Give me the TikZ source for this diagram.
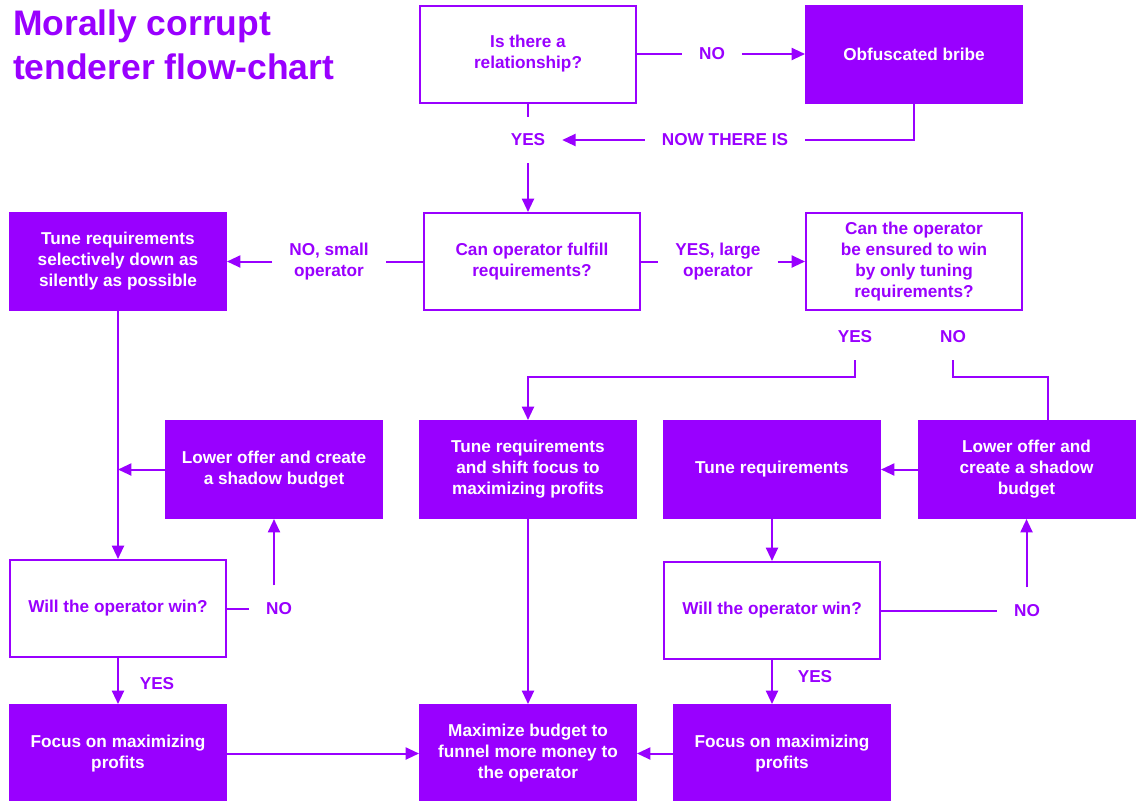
\documentclass[tikz,border=0pt]{standalone}
\usepackage{fontspec}
\setmainfont{Liberation Sans}
\usepackage{tikz}
\usetikzlibrary{arrows.meta, positioning}
\definecolor{purp}{RGB}{153,0,255}
\tikzset{>={Triangle[length=10pt,width=9pt]}}

\begin{document}
\begin{tikzpicture}[x=0.75pt, y=-0.75pt, color=purp, line width=1.5pt,
  box/.style={draw=purp, fill=white, text=purp, minimum width=162pt, minimum height=72.75pt,
    inner sep=0pt, align=center, font=\fontsize{12.9}{15.75}\selectfont\bfseries},
  act/.style={box, fill=purp, text=white},
  lbl/.style={text=purp, align=center, inner sep=12pt, font=\fontsize{12.9}{15.75}\selectfont\bfseries}]
  \useasboundingbox (0,0) rectangle (1138,800);
  \node[anchor=north west, inner sep=0pt, align=left, text=purp,
    font=\fontsize{26.6}{33}\selectfont\bfseries] (title) at (12,9) {Morally corrupt\\tenderer flow-chart};
  \node[box]	(rel)	at	(528,54)	{Is there a\\relationship?};
  \node[act]	(bribe)	at	(914,54)	{Obfuscated bribe};
  \node[box]	(fulfill)	at	(532,261.5)	{Can operator fulfill\\requirements?};
  \node[act]	(tunedown)	at	(118,261.5)	{Tune requirements\\selectively down as\\silently as possible};
  \node[box]	(ensured)	at	(914,261.5)	{Can the operator\\be ensured to win\\by only tuning\\requirements?};
  \node[act]	(lowerL)	at	(274,469.5)	{Lower offer and create\\a shadow budget};
  \node[act]	(tuneshift)	at	(528,469.5)	{Tune requirements\\and shift focus to\\maximizing profits};
  \node[act]	(tune)	at	(772,469.5)	{Tune requirements};
  \node[act]	(lowerR)	at	(1026.5,469.5)	{Lower offer and\\create a shadow\\budget};
  \node[box]	(winL)	at	(118,608.5)	{Will the operator win?};
  \node[box]	(winR)	at	(772,610.5)	{Will the operator win?};
  \node[act]	(focusL)	at	(118,753.5)	{Focus on maximizing\\profits};
  \node[act]	(maxb)	at	(528,753.5)	{Maximize budget to\\funnel more money to\\the operator};
  \node[act]	(focusR)	at	(782,753.5)	{Focus on maximizing\\profits};
  \node[lbl]	(no1)	at	(712,54)	{NO};
  \node[lbl]	(yes1)	at	(528,140)	{YES};
  \node[lbl]	(now)	at	(725,140)	{NOW THERE IS};
  \node[lbl]	(small)	at	(329,261.5)	{NO, small\\operator};
  \node[lbl]	(large)	at	(718,261.5)	{YES, large\\operator};
  \node[lbl]	(yesE)	at	(855,337)	{YES};
  \node[lbl]	(noE)	at	(953,337)	{NO};
  \node[lbl]	(noL)	at	(279,608.5)	{NO};
  \node[lbl]	(noR)	at	(1027,610.5)	{NO};
  \node[lbl]	(yesL)	at	(157,684)	{YES};
  \node[lbl]	(yesR)	at	(815,677)	{YES};
  \coordinate (c1) at (528,377);
  \coordinate (c2) at (1048,377);
  \draw (rel) -- (no1);
  \draw[->] (no1) -- (bribe);
  \draw (rel) -- (yes1);
  \draw[->] (yes1) -- (yes1 |- fulfill.north);
  \draw (bribe) |- (now);
  \draw[->] (now) -- (yes1);
  \draw (fulfill) -- (small);
  \draw[->] (small) -- (tunedown);
  \draw (fulfill) -- (large);
  \draw[->] (large) -- (ensured);
  \draw[->] (yesE) |- (c1) -- (tuneshift);
  \draw (noE) |- (c2) -- (lowerR.north -| c2);
  \draw[->] (tunedown) -- (winL);
  \draw[->] (lowerL) -- (lowerL -| tunedown);
  \draw (winL) -- (noL);
  \draw[->] (noL.north -| lowerL) -- (lowerL);
  \draw[->] (winL) -- (focusL);
  \draw[->] (focusL) -- (maxb);
  \draw[->] (tuneshift) -- (maxb);
  \draw[->] (focusR) -- (maxb);
  \draw[->] (lowerR) -- (tune);
  \draw[->] (tune) -- (winR);
  \draw (winR) -- (noR);
  \draw[->] (noR.north -| lowerR) -- (lowerR);
  \draw[->] (winR) -- (winR |- focusR.north);
\end{tikzpicture}
\end{document}
